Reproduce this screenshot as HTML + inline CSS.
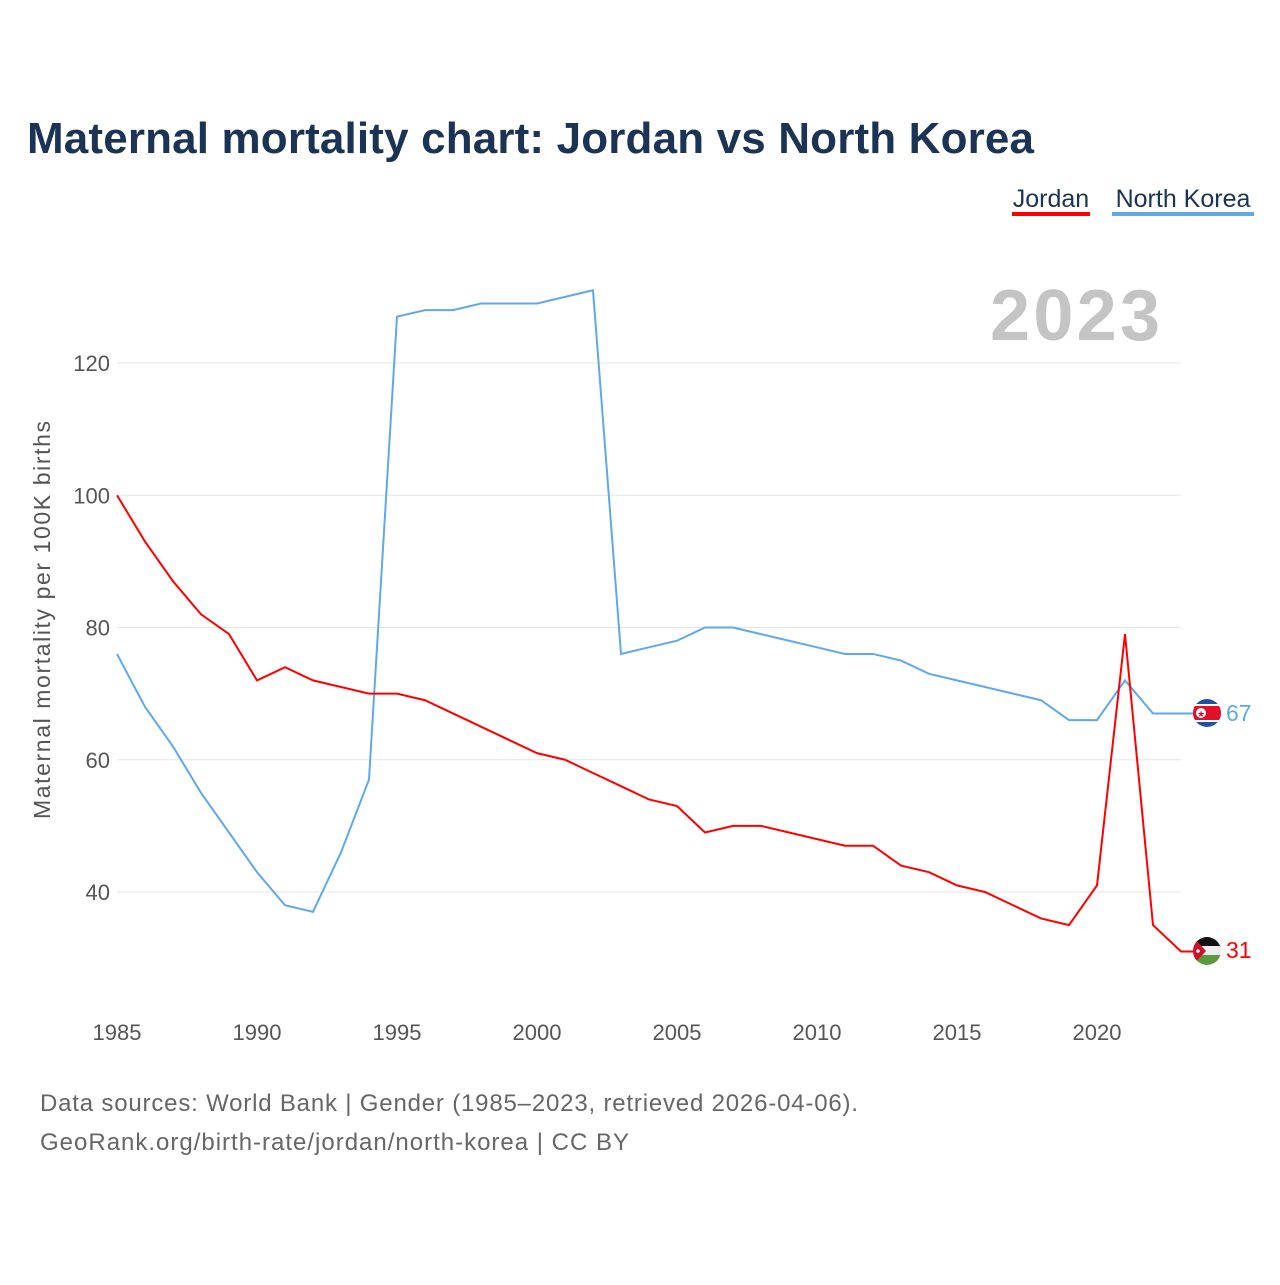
<!DOCTYPE html>
<html><head><meta charset="utf-8"><style>
body{margin:0;width:1280px;height:1280px;background:#fff;font-family:"Liberation Sans",sans-serif;overflow:hidden}
</style></head><body>
<svg id="chart" width="1280" height="1280" xmlns="http://www.w3.org/2000/svg">
<text x="27" y="153" font-size="44" font-weight="bold" fill="#1b3354" textLength="1007">Maternal mortality chart: Jordan vs North Korea</text>
<g><text x="1051" y="207" font-size="25" fill="#1b3354" text-anchor="middle">Jordan</text><rect x="1012" y="212" width="78" height="4" fill="#ff0000"/></g>
<g><text x="1183" y="207" font-size="25" fill="#1b3354" text-anchor="middle">North Korea</text><rect x="1112" y="212" width="142" height="4" fill="#5fa8ec"/></g>
<text x="990" y="340" font-size="72" font-weight="bold" fill="#c4c4c4" textLength="170">2023</text>
<g id="grid"></g><g id="lines"></g>
<text transform="translate(50,620) rotate(-90)" font-size="23" fill="#555" text-anchor="middle" textLength="398">Maternal mortality per 100K births</text>
<g>
<clipPath id="c1"><circle cx="1207" cy="713" r="14"/></clipPath>
<g clip-path="url(#c1)"><rect x="1193" y="699" width="28" height="28" fill="#1f4fa8"/><rect x="1193" y="704" width="28" height="18" fill="#fff"/><rect x="1193" y="706" width="28" height="14" fill="#e0102a"/><circle cx="1201" cy="713" r="5" fill="#fff"/><text x="1201" y="717" font-size="9" fill="#e0102a" text-anchor="middle">★</text></g></g>
<g>
<clipPath id="c2"><circle cx="1207" cy="951" r="14"/></clipPath>
<g clip-path="url(#c2)"><rect x="1193" y="937" width="28" height="10" fill="#111"/><rect x="1193" y="946" width="28" height="10" fill="#eee"/><rect x="1193" y="955" width="28" height="10" fill="#5a9a3a"/><polygon points="1193,937 1206,951 1193,965" fill="#d0102a"/><circle cx="1198" cy="951" r="1.8" fill="#fff"/></g></g>
<text x="1226" y="721" font-size="23" fill="#5fa8ec">67</text>
<text x="1226" y="958" font-size="23" fill="#ff0000">31</text>
<text x="40" y="1111" font-size="24" fill="#666" textLength="818">Data sources: World Bank | Gender (1985–2023, retrieved 2026-04-06).</text>
<text x="40" y="1150" font-size="24" fill="#666" textLength="589">GeoRank.org/birth-rate/jordan/north-korea | CC BY</text>
</svg>
<script>
const years=[];for(let y=1985;y<=2023;y++)years.push(y);
const jordan=[100,93,87,82,79,72,74,72,71,70,70,69,67,65,63,61,60,58,56,54,53,49,50,50,49,48,47,47,44,43,41,40,38,36,35,41,79,35,31];
const northKorea=[76,68,62,55,49,43,38,37,46,57,127,128,128,129,129,129,130,131,76,77,78,80,80,79,78,77,76,76,75,73,72,71,70,69,66,66,72,67,67];
const yTicks=[40,60,80,100,120];
const xTicks=[1985,1990,1995,2000,2005,2010,2015,2020];
const NS="http://www.w3.org/2000/svg";
const xs=y=>117+(y-1985)*28;
const ys=v=>892-(v-40)*6.6125;
const grid=document.getElementById('grid'),lines=document.getElementById('lines');
function mk(t,a,p){const e=document.createElementNS(NS,t);for(const k in a)e.setAttribute(k,a[k]);p.appendChild(e);return e;}
yTicks.forEach(v=>{
 const l=mk('line',{x1:117,x2:1181,y1:ys(v),y2:ys(v),stroke:'#e6e6e6','stroke-width':1},grid);
 
 
 const t=mk('text',{x:110,y:ys(v)+8,'font-size':22,fill:'#555','text-anchor':'end'},grid);t.textContent=v;
 
 
});
xTicks.forEach(v=>{
 const t=mk('text',{x:xs(v),y:1040,'font-size':22,fill:'#555','text-anchor':'middle'},grid);t.textContent=v;
 
 
});
function line(d,c,n){
 const pts=d.map((v,i)=>xs(years[i])+','+ys(v));
 pts.push((xs(years[years.length-1])+12)+','+ys(d[d.length-1]));
 const p=mk('polyline',{points:pts.join(' '),fill:'none',stroke:c,'stroke-width':2},lines);
 
 
}
line(northKorea,'#5fa8ec','line-north-korea');
line(jordan,'#ff0000','line-jordan');
</script>
</body></html>
